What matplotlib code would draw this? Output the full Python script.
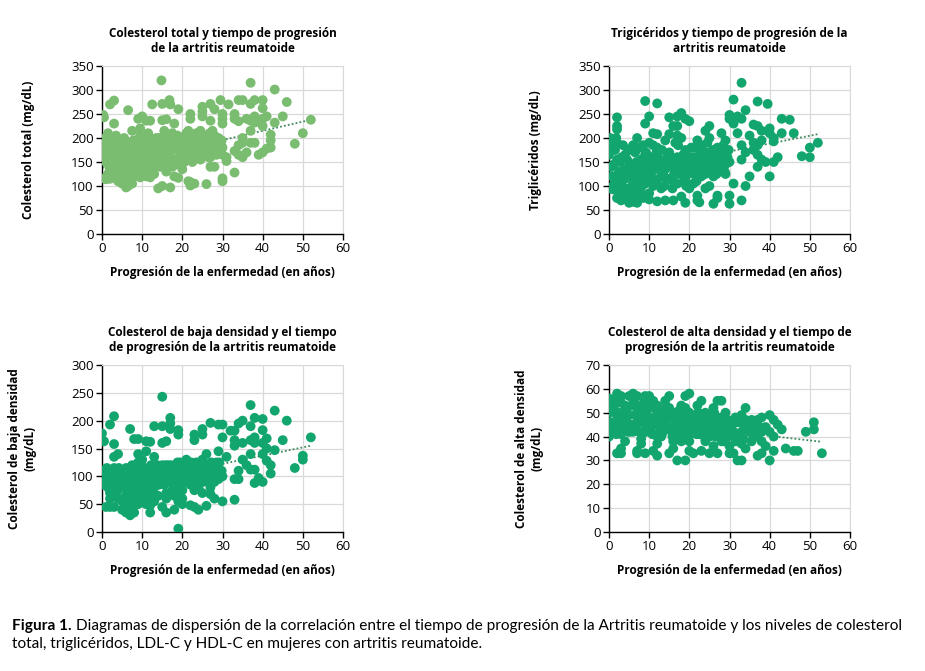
import matplotlib
matplotlib.use("Agg")
import matplotlib.pyplot as plt

# --- datos -----------------------------------------------------------------
# Colesterol total
ct_years = [
    14.8, 37.0, 43.0, 46.0, 2.0, 3.0, 12.5, 15.0, 16.8, 17.0, 27.0, 29.5, 31.5, 34.0, 35.0,
    37.0, 38.0, 40.0, 40.0, 0.3, 0.5, 3.0, 6.5, 9.0, 10.0, 11.0, 12.0, 15.0, 16.0, 18.0,
    19.0, 22.0, 22.0, 25.0, 25.0, 25.0, 27.0, 28.0, 30.0, 30.0, 30.0, 33.0, 33.0, 34.0, 36.0,
    37.0, 38.0, 38.0, 40.0, 41.0, 43.0, 45.0, 52.0, 50.0, 48.0, 42.0, 42.0, 40.0, 39.0, 40.0,
    42.0, 41.0, 35.0, 33.0, 34.0, 36.0, 37.0, 38.0, 37.0, 35.0, 35.0, 34.0, 33.0, 30.0, 30.0,
    31.0, 31.0, 28.0, 27.0, 26.0, 23.0, 22.0, 22.0, 21.5, 19.0, 18.0, 17.0, 15.0, 14.0, 12.0,
    11.0, 6.0, 5.0, 4.0, 1.0, 2.0, 0.5, 3.0, 5.5, 6.5, 7.0, 9.5, 13.0, 16.0, 20.0,
    0.5, 1.0, 1.5, 2.0, 2.5, 3.0, 3.5, 4.0, 4.5, 5.0, 5.5, 6.0, 6.5, 7.0, 7.5,
    8.0, 8.5, 9.0, 9.5, 10.0, 10.5, 11.0, 11.5, 12.0, 12.5, 13.0, 13.5, 14.0, 14.5, 15.0,
    15.5, 16.0, 16.5, 17.0, 17.5, 18.0, 18.5, 19.0, 19.5, 20.0, 20.5, 21.0, 21.5, 22.0, 22.5,
    23.0, 23.5, 24.0, 24.5, 25.0, 25.5, 26.0, 26.5, 27.0, 27.5, 28.0, 28.5, 29.0, 29.5, 30.0,
    0.0, 1.0, 2.0, 3.0, 4.0, 5.0, 6.0, 7.0, 8.0, 9.0, 10.0, 11.0, 12.0, 13.0, 14.0,
    16.0, 17.0, 18.0, 19.0, 20.0, 21.0, 22.0, 23.0, 24.0, 25.0, 26.0, 27.0, 28.0, 29.0, 30.0,
    2.5, 4.5, 6.5, 8.5, 10.5, 12.5, 14.5, 16.5, 18.5, 20.5, 22.5, 24.5, 26.5, 28.5,
    1.5, 3.5, 5.5, 7.5, 9.5, 11.5, 13.5, 15.5, 17.5, 19.5, 21.5, 23.5, 25.5, 27.5,
    0.2, 1.2, 2.2, 3.2, 4.2, 5.2, 6.2, 7.2, 8.2, 9.2, 10.2, 11.2, 12.2, 13.2, 14.2,
    15.2, 16.2, 17.2, 18.2, 19.2, 20.2, 21.2, 22.2, 23.2, 24.2, 25.2, 26.2, 27.2, 28.2, 29.2,
    0.8, 1.8, 2.8, 3.8, 4.8, 5.8, 6.8, 7.8, 8.8, 9.8, 10.8, 11.8, 12.8, 13.8, 14.8,
    15.8, 16.8, 17.8, 18.8, 19.8, 20.8, 21.8, 22.8, 23.8, 24.8, 25.8, 26.8, 27.8, 28.8, 29.8,
    5.0, 5.5, 6.0, 6.5, 7.0, 7.5, 8.0, 9.0, 9.5, 10.0, 3.5, 4.0, 2.0, 1.5, 17.5,
]
ct_values = [
    320, 315, 301, 275, 270, 278, 270, 271, 279, 270, 271, 279, 270, 279, 279,
    271, 279, 279, 262, 248, 243, 230, 258, 240, 245, 236, 236, 237, 239, 230,
    260, 240, 250, 265, 255, 245, 236, 260, 250, 240, 230, 240, 250, 235, 240,
    236, 245, 232, 240, 245, 232, 245, 238, 210, 188, 207, 195, 225, 165, 170,
    180, 178, 160, 173, 165, 170, 190, 190, 215, 200, 190, 185, 128, 110, 116,
    152, 160, 140, 140, 104, 105, 101, 108, 110, 117, 120, 97, 100, 95, 118,
    120, 97, 105, 110, 114, 115, 116, 130, 110, 100, 120, 118, 125, 130, 135,
    165, 175, 160, 185, 170, 195, 150, 180, 165, 190, 155, 175, 145, 185, 170,
    160, 195, 150, 205, 170, 185, 155, 175, 200, 145, 180, 165, 190, 150, 175,
    195, 160, 185, 170, 205, 155, 190, 175, 200, 165, 185, 210, 170, 195, 180,
    205, 175, 190, 215, 185, 170, 200, 180, 195, 175, 205, 185, 170, 190, 180,
    180, 150, 200, 160, 145, 165, 190, 155, 180, 170, 140, 195, 160, 175, 165,
    180, 150, 200, 185, 175, 160, 190, 165, 200, 175, 190, 160, 180, 200, 165,
    130, 125, 130, 140, 130, 135, 140, 150, 145, 150, 150, 155, 160, 165,
    210, 205, 200, 215, 220, 210, 200, 215, 210, 195, 215, 210, 205, 215,
    155, 190, 170, 145, 185, 130, 160, 140, 185, 160, 200, 145, 185, 155, 200,
    165, 200, 150, 180, 160, 195, 180, 160, 190, 170, 200, 165, 185, 200, 175,
    200, 140, 180, 170, 155, 180, 115, 195, 145, 180, 160, 170, 140, 195, 185,
    150, 175, 190, 205, 185, 170, 195, 205, 180, 195, 180, 210, 170, 180, 195,
    125, 140, 110, 125, 135, 105, 120, 130, 140, 125, 120, 145, 135, 125, 140,
]

# Triglicéridos
tg_years = [
    33.0, 9.0, 12.0, 31.0, 37.0, 39.5, 34.0, 2.0, 2.0, 2.0, 10.0, 9.0, 15.0, 17.0, 18.0,
    19.0, 20.0, 16.0, 17.0, 25.0, 24.0, 30.0, 30.0, 31.0, 32.0, 33.0, 36.0, 37.0, 38.0, 40.0,
    40.0, 43.0, 45.0, 43.0, 46.0, 41.0, 41.0, 52.0, 50.0, 48.0, 50.0, 41.0, 42.0, 40.0, 38.0,
    37.0, 34.0, 33.0, 30.0, 30.0, 27.0, 26.0, 22.0, 22.5, 19.0, 16.0, 14.0, 12.0, 10.0, 7.0,
    5.0, 3.0, 2.0, 0.0, 1.0, 3.0, 7.0, 11.0, 12.0, 11.0, 15.0, 17.0, 1.0, 0.3, 6.0,
    35.0, 36.0, 37.0, 36.0, 37.0, 38.0, 39.0, 34.0, 33.0, 32.0, 29.0, 28.0, 24.0, 25.0, 21.0,
    20.0, 18.0, 9.0, 5.0, 4.0, 8.0, 13.0, 24.0, 28.0, 23.0, 31.0, 33.0, 35.0, 27.0, 22.0,
    0.5, 1.5, 2.5, 3.5, 4.5, 5.5, 6.5, 7.5, 8.5, 9.5, 10.5, 11.5, 12.5, 13.5, 14.5,
    15.5, 16.5, 17.5, 18.5, 19.5, 20.5, 21.5, 22.5, 23.5, 24.5, 25.5, 26.5, 27.5, 28.5, 29.5,
    0.0, 1.0, 2.0, 3.0, 4.0, 5.0, 6.0, 7.0, 8.0, 9.0, 10.0, 11.0, 12.0, 13.0, 14.0,
    15.0, 16.0, 17.0, 18.0, 19.0, 20.0, 21.0, 22.0, 23.0, 24.0, 25.0, 26.0, 27.0, 28.0, 29.0,
    1.0, 3.0, 5.0, 7.0, 9.0, 11.0, 13.0, 15.0, 17.0, 19.0, 21.0, 23.0, 25.0, 27.0, 29.0,
    2.0, 4.0, 6.0, 8.0, 10.0, 12.0, 14.0, 16.0, 18.0, 20.0, 22.0, 24.0, 26.0, 28.0, 30.0,
    0.2, 1.2, 2.2, 3.2, 4.2, 5.2, 6.2, 7.2, 8.2, 9.2, 10.2, 11.2, 12.2, 13.2, 14.2,
    15.2, 16.2, 17.2, 18.2, 19.2, 20.2, 21.2, 22.2, 23.2, 24.2, 25.2, 26.2, 27.2, 28.2, 29.2,
    0.8, 1.8, 2.8, 3.8, 4.8, 5.8, 6.8, 7.8, 8.8, 9.8, 10.8, 11.8, 12.8, 13.8, 14.8,
    15.8, 16.8, 17.8, 18.8, 19.8, 20.8, 21.8, 22.8, 23.8, 24.8, 25.8, 26.8, 27.8, 28.8, 29.8,
    3.0, 4.0, 5.0, 6.0, 7.0, 8.0, 9.0, 4.5, 6.5, 8.5, 10.0, 2.5, 1.5, 5.5, 7.5,
]
tg_values = [
    315, 277, 272, 280, 276, 271, 258, 243, 225, 218, 245, 230, 243, 245, 252,
    240, 235, 225, 225, 225, 215, 248, 240, 230, 245, 240, 228, 225, 215, 220,
    210, 240, 238, 210, 210, 200, 193, 190, 180, 162, 160, 150, 160, 120, 155,
    140, 100, 70, 63, 80, 80, 63, 70, 66, 65, 70, 70, 68, 72, 65,
    65, 70, 75, 95, 93, 90, 200, 185, 208, 210, 208, 205, 195, 200, 67,
    205, 190, 185, 175, 165, 195, 150, 170, 155, 210, 195, 210, 125, 100, 105,
    95, 78, 80, 85, 80, 110, 95, 95, 160, 120, 105, 185, 120, 75, 80,
    140, 175, 130, 185, 155, 120, 170, 145, 185, 115, 160, 135, 175, 125, 160,
    140, 190, 125, 165, 150, 180, 140, 175, 155, 190, 145, 170, 150, 185, 160,
    165, 120, 155, 105, 135, 175, 105, 130, 155, 140, 125, 150, 105, 150, 135,
    115, 150, 160, 130, 175, 130, 160, 145, 185, 140, 165, 155, 135, 175, 145,
    100, 155, 95, 110, 165, 100, 120, 170, 105, 115, 125, 140, 200, 180, 125,
    190, 115, 145, 180, 190, 180, 195, 110, 200, 160, 195, 170, 120, 140, 150,
    180, 145, 110, 160, 95, 145, 125, 180, 100, 170, 140, 115, 160, 175, 115,
    160, 125, 185, 145, 100, 160, 180, 125, 145, 160, 130, 140, 165, 150, 170,
    120, 200, 150, 125, 175, 100, 150, 95, 130, 150, 105, 170, 140, 100, 145,
    95, 140, 150, 110, 135, 150, 110, 160, 170, 150, 175, 125, 145, 130, 175,
    120, 165, 135, 185, 90, 120, 105, 75, 80, 75, 85, 85, 110, 70, 75,
]

# Colesterol de baja densidad (LDL)
ldl_years = [
    15.0, 37.0, 43.0, 46.0, 38.0, 40.0, 40.0, 37.0, 35.0, 34.0, 33.0, 3.0, 2.0, 0.0, 0.5,
    3.0, 13.0, 15.0, 17.0, 17.0, 17.0, 19.0, 19.0, 15.0, 16.0, 12.0, 11.0, 9.0, 8.0, 7.0,
    25.0, 25.0, 23.0, 23.0, 27.0, 29.0, 30.0, 30.0, 32.0, 33.0, 33.0, 35.0, 37.0, 38.0, 38.0,
    40.0, 41.0, 41.0, 43.0, 45.0, 52.0, 50.0, 50.0, 48.0, 42.0, 42.0, 40.0, 39.0, 38.0, 37.0,
    38.0, 34.0, 33.0, 33.0, 30.0, 28.0, 27.0, 26.0, 24.0, 23.0, 22.0, 23.0, 25.0, 19.0, 19.0,
    20.0, 18.0, 16.0, 15.0, 12.0, 12.0, 8.0, 7.0, 6.0, 5.0, 1.0, 2.0, 3.0, 10.0, 37.0,
    36.0, 35.0, 34.0, 40.0, 41.0, 3.0, 4.0, 9.0, 10.0, 13.0, 11.0, 29.0, 31.0, 26.0, 21.0,
    0.5, 1.5, 2.5, 3.5, 4.5, 5.5, 6.5, 7.5, 8.5, 9.5, 10.5, 11.5, 12.5, 13.5, 14.5,
    15.5, 16.5, 17.5, 18.5, 19.5, 20.5, 21.5, 22.5, 23.5, 24.5, 25.5, 26.5, 27.5, 28.5, 29.5,
    0.0, 1.0, 2.0, 3.0, 4.0, 5.0, 6.0, 7.0, 8.0, 9.0, 10.0, 11.0, 12.0, 13.0, 14.0,
    15.0, 16.0, 17.0, 18.0, 19.0, 20.0, 21.0, 22.0, 23.0, 24.0, 25.0, 26.0, 27.0, 28.0, 29.0,
    1.0, 3.0, 5.0, 7.0, 9.0, 11.0, 13.0, 15.0, 17.0, 19.0, 21.0, 23.0, 25.0, 27.0, 29.0,
    2.0, 4.0, 6.0, 8.0, 10.0, 12.0, 14.0, 16.0, 18.0, 20.0, 22.0, 24.0, 26.0, 28.0, 30.0,
    0.2, 1.2, 2.2, 3.2, 4.2, 5.2, 6.2, 7.2, 8.2, 9.2, 10.2, 11.2, 12.2, 13.2, 14.2,
    15.2, 16.2, 17.2, 18.2, 19.2, 20.2, 21.2, 22.2, 23.2, 24.2, 25.2, 26.2, 27.2, 28.2, 29.2,
    0.8, 1.8, 2.8, 3.8, 4.8, 5.8, 6.8, 7.8, 8.8, 9.8, 10.8, 11.8, 12.8, 13.8, 14.8,
    15.8, 16.8, 17.8, 18.8, 19.8, 20.8, 21.8, 22.8, 23.8, 24.8, 25.8, 26.8, 27.8, 28.8, 29.8,
    5.0, 6.0, 6.5, 7.0, 7.5, 8.0, 4.0, 3.0, 2.0, 9.0, 11.0, 13.0, 16.0, 18.0, 20.0,
]
ldl_values = [
    243, 228, 218, 200, 205, 203, 183, 190, 200, 195, 182, 208, 193, 177, 163,
    158, 190, 190, 205, 195, 185, 183, 175, 160, 163, 162, 163, 167, 167, 185,
    185, 175, 175, 165, 196, 193, 193, 170, 182, 165, 155, 160, 165, 170, 160,
    160, 168, 150, 147, 165, 170, 137, 130, 115, 120, 105, 90, 97, 88, 112,
    112, 95, 95, 58, 55, 60, 68, 47, 40, 45, 48, 75, 70, 6, 55,
    50, 40, 35, 45, 35, 48, 35, 30, 35, 40, 45, 45, 45, 55, 140,
    120, 130, 110, 140, 128, 135, 140, 140, 130, 135, 145, 145, 135, 140, 130,
    95, 80, 110, 70, 100, 60, 90, 120, 75, 105, 85, 115, 70, 95, 110,
    85, 120, 75, 100, 125, 95, 115, 100, 125, 90, 110, 120, 100, 125, 105,
    110, 100, 85, 95, 75, 110, 50, 70, 95, 85, 100, 80, 95, 80, 65,
    100, 70, 105, 90, 110, 75, 120, 85, 110, 100, 130, 95, 110, 90, 115,
    90, 115, 85, 40, 125, 60, 110, 120, 90, 70, 95, 120, 100, 80, 95,
    70, 100, 115, 55, 70, 105, 90, 100, 115, 100, 105, 80, 100, 105, 100,
    85, 115, 95, 80, 115, 90, 75, 100, 115, 65, 110, 95, 120, 105, 85,
    110, 90, 120, 75, 95, 115, 105, 125, 95, 115, 90, 110, 125, 105, 125,
    105, 95, 70, 105, 85, 100, 105, 60, 100, 120, 75, 105, 85, 120, 95,
    120, 105, 95, 125, 85, 105, 90, 115, 105, 125, 120, 90, 115, 120, 110,
    55, 65, 45, 55, 40, 80, 60, 65, 60, 50, 50, 55, 60, 65, 60,
]

# Colesterol de alta densidad (HDL)
hdl_years = [
    2.0, 3.0, 0.0, 5.0, 6.0, 7.0, 9.0, 10.0, 15.0, 19.0, 20.0, 23.0, 27.0, 28.0, 43.0,
    44.0, 46.0, 47.0, 49.0, 51.0, 51.0, 53.0, 40.0, 41.0, 38.0, 37.0, 33.0, 32.0, 31.0, 30.0,
    27.0, 25.0, 23.0, 21.0, 20.0, 19.0, 17.0, 15.0, 12.0, 11.0, 9.0, 7.0, 7.0, 3.0, 2.0,
    3.0, 0.0, 34.0, 40.0, 41.0, 42.0, 38.0, 37.0, 36.0, 39.0, 41.0, 33.0, 34.0, 30.0, 29.0,
    1.0, 4.0, 8.0, 11.0, 14.0, 18.0, 22.0, 26.0, 12.0, 16.0, 24.0, 18.0, 13.0, 36.0, 38.0,
    0.5, 1.5, 2.5, 3.5, 4.5, 5.5, 6.5, 7.5, 8.5, 9.5, 10.5, 11.5, 12.5, 13.5, 14.5,
    15.5, 16.5, 17.5, 18.5, 19.5, 20.5, 21.5, 22.5, 23.5, 24.5, 25.5, 26.5, 27.5, 28.5, 29.5,
    0.0, 1.0, 2.0, 3.0, 4.0, 5.0, 6.0, 7.0, 8.0, 9.0, 10.0, 11.0, 12.0, 13.0, 14.0,
    15.0, 16.0, 17.0, 18.0, 19.0, 20.0, 21.0, 22.0, 23.0, 24.0, 25.0, 26.0, 27.0, 28.0, 29.0,
    30.5, 31.5, 32.5, 33.5, 34.5, 35.5, 36.5, 37.5, 31.0, 33.0, 35.0, 37.0, 2.0, 6.0, 10.0,
    4.0, 8.0, 12.0, 16.0, 20.0, 24.0, 28.0, 5.0, 9.0, 13.0, 17.0, 21.0, 25.0, 19.0, 23.0,
    0.2, 1.2, 2.2, 3.2, 4.2, 5.2, 6.2, 7.2, 8.2, 9.2, 10.2, 11.2, 12.2, 13.2, 14.2,
    15.2, 16.2, 17.2, 18.2, 19.2, 20.2, 21.2, 22.2, 23.2, 24.2, 25.2, 26.2, 27.2, 28.2, 29.2,
    0.8, 1.8, 2.8, 3.8, 4.8, 5.8, 6.8, 7.8, 8.8, 9.8, 10.8, 11.8, 12.8, 13.8, 14.8,
    15.8, 16.8, 17.8, 18.8, 19.8, 20.8, 21.8, 22.8, 23.8, 24.8, 25.8, 26.8, 27.8, 28.8, 29.8,
    30.0, 31.0, 32.0, 33.0, 34.0, 35.0, 36.0, 37.0, 38.0, 39.0, 40.0, 31.5, 33.5, 35.5, 26.0,
]
hdl_values = [
    58, 57, 56, 57, 58, 57, 57, 57, 57, 57, 58, 55, 55, 55, 43,
    35, 34, 34, 42, 46, 43, 33, 30, 34, 33, 32, 30, 30, 33, 33,
    33, 33, 34, 33, 34, 30, 30, 33, 32, 34, 33, 34, 33, 33, 33,
    35, 40, 52, 49, 47, 45, 48, 45, 40, 36, 40, 37, 35, 36, 50,
    55, 53, 53, 55, 55, 53, 53, 52, 37, 35, 38, 38, 40, 46, 38,
    46, 50, 43, 48, 52, 45, 49, 42, 47, 51, 44, 48, 46, 50, 43,
    48, 45, 51, 42, 47, 44, 49, 41, 46, 43, 48, 40, 45, 42, 47,
    50, 44, 47, 41, 45, 49, 42, 52, 39, 45, 48, 41, 53, 44, 47,
    52, 41, 46, 49, 44, 50, 42, 47, 44, 50, 40, 47, 43, 48, 39,
    44, 48, 41, 45, 43, 47, 40, 44, 40, 49, 45, 41, 54, 54, 53,
    38, 37, 40, 38, 38, 39, 38, 44, 42, 46, 40, 46, 45, 52, 41,
    43, 53, 50, 45, 48, 42, 55, 46, 50, 42, 55, 45, 49, 41, 52,
    44, 50, 42, 46, 51, 41, 45, 50, 43, 46, 44, 50, 41, 45, 42,
    53, 41, 55, 51, 42, 53, 45, 49, 55, 48, 41, 51, 43, 47, 49,
    40, 47, 44, 40, 48, 47, 41, 44, 49, 40, 42, 44, 47, 38, 44,
    46, 42, 46, 42, 47, 42, 44, 47, 42, 44, 42, 38, 39, 38, 36,
]

# lineas de tendencia (extremos)
ct_trend_x, ct_trend_y = [0, 52], [138, 238]
tg_trend_x, tg_trend_y = [0, 52], [123, 208]
ldl_trend_x, ldl_trend_y = [0, 52], [78, 155]
hdl_trend_x, hdl_trend_y = [0, 53], [48, 37.8]

titles = [
    "Colesterol total y tiempo de progresión\nde la artritis reumatoide",
    "Trigicéridos y tiempo de progresión de la\nartritis reumatoide",
    "Colesterol de baja densidad y el tiempo\nde progresión de la artritis reumatoide",
    "Colesterol de alta densidad y el tiempo de\nprogresión de la artritis reumatoide",
]
ylabels = [
    "Colesterol total (mg/dL)",
    "Triglicéridos (mg/dL)",
    "Colesterol de baja densidad\n(mg/dL)",
    "Colesterol de alta densidad\n(mg/dL)",
]
xlabel = "Progresión de la enfermedad (en años)"

plt.rcParams["font.family"] = ["Open Sans", "DejaVu Sans"]

W, H = 925, 671
fig = plt.figure(figsize=(W / 100, H / 100), dpi=100)

# posiciones en pixeles: (izq, arriba, der, abajo)
boxes = [(102, 66, 343, 234), (609, 66, 850, 234),
         (102, 365, 343, 532), (609, 365, 850, 532)]

panels = [
    (ct_years, ct_values, ct_trend_x, ct_trend_y, "#7abd71", (0, 350), 50),
    (tg_years, tg_values, tg_trend_x, tg_trend_y, "#12a66e", (0, 350), 50),
    (ldl_years, ldl_values, ldl_trend_x, ldl_trend_y, "#12a66e", (0, 300), 50),
    (hdl_years, hdl_values, hdl_trend_x, hdl_trend_y, "#12a66e", (0, 70), 10),
]

for i, (xs, ys, tx, ty, color, ylim, ystep) in enumerate(panels):
    l, t, r, b = boxes[i]
    ax = fig.add_axes([l / W, 1 - b / H, (r - l) / W, (b - t) / H])
    ax.plot(tx, ty, ls=(0, (1, 1.2)), color="#3f8a5c", lw=1.3, zorder=2)
    ax.scatter(xs, ys, s=50, color=color, edgecolors="none", zorder=3)
    ax.set_xlim(0, 60)
    ax.set_ylim(*ylim)
    ax.set_xticks(range(0, 61, 10))
    ax.set_yticks(range(ylim[0], ylim[1] + 1, ystep))
    ax.grid(True, color="#d9d9d9", lw=0.9, zorder=0)
    ax.set_axisbelow(True)
    for side in ("top", "right"):
        ax.spines[side].set_color("#d9d9d9")
    for side in ("left", "bottom"):
        ax.spines[side].set_color("black")
        ax.spines[side].set_linewidth(1.0)
    ax.tick_params(direction="out", length=4, width=1, labelsize=9.5,
                   colors="black", pad=2)
    ax.set_title(titles[i], fontsize=8.5, fontweight="bold", pad=10,
                 linespacing=1.2)
    ax.set_xlabel(xlabel, fontsize=8.5, fontweight="bold", labelpad=8)
    ax.set_ylabel(ylabels[i], fontsize=8.5, fontweight="bold",
                  linespacing=1.3)
    ax.yaxis.set_label_coords(-0.28 if i < 2 else -0.27, 0.5)

# pie de figura, ajustado al ancho del original
fig.canvas.draw()
renderer = fig.canvas.get_renderer()
cap_font = ["Lato", "DejaVu Sans"]
cap_size = 11.5
y1, y2 = 1 - 630 / H, 1 - 648 / H
t1 = fig.text(12 / W, y1, "Figura 1.", fontsize=cap_size, fontweight="bold",
              family=cap_font)
t2 = fig.text(0, y1,
              "Diagramas de dispersión de la correlación entre el tiempo de progresión de la Artritis "
              "reumatoide y los niveles de colesterol",
              fontsize=cap_size, family=cap_font)
t3 = fig.text(12 / W, y2,
              "total, triglicéridos, LDL-C y HDL-C en mujeres con artritis reumatoide.",
              fontsize=cap_size, family=cap_font)
w1 = t1.get_window_extent(renderer).width
w2 = t2.get_window_extent(renderer).width
scale = (905 - 12) / (w1 + 4 + w2)
for t in (t1, t2, t3):
    t.set_fontsize(cap_size * scale)
w1 = t1.get_window_extent(renderer).width
t2.set_x((12 + w1 + 4) / W)

fig.savefig("out.png", dpi=100)
